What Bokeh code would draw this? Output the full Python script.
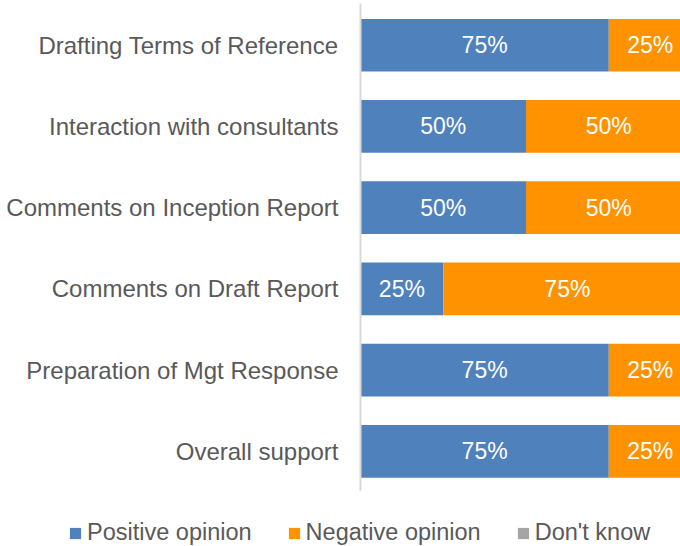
from bokeh.plotting import figure
from bokeh.layouts import column, row
from bokeh.models import ColumnDataSource, FixedTicker, Legend, LegendItem, Range1d
from bokeh.core.properties import value
from bokeh.embed import file_html
from bokeh.resources import INLINE

categories = [
    "Drafting Terms of Reference",
    "Interaction with consultants",
    "Comments on Inception Report",
    "Comments on Draft Report",
    "Preparation of Mgt Response",
    "Overall support",
]
positive = [0.75, 0.50, 0.50, 0.25, 0.75, 0.75]
negative = [0.25, 0.50, 0.50, 0.75, 0.25, 0.25]
dont_know = [0.0, 0.0, 0.0, 0.0, 0.0, 0.0]
series_names = ["Positive opinion", "Negative opinion", "Don't know"]
series_colors = ["#4F81BD", "#FF9200", "#A5A5A5"]

FONT = "Liberation Sans"
n = len(categories)
ys = [n - 1 - i for i in range(n)]

pos_left = [0.0] * n
pos_right = positive
neg_left = positive
neg_right = [a + b for a, b in zip(positive, negative)]
dk_left = neg_right
dk_right = [a + b for a, b in zip(neg_right, dont_know)]

src = ColumnDataSource(dict(
    y=ys, pos_left=pos_left, pos_right=pos_right,
    neg_left=neg_left, neg_right=neg_right,
    dk_left=dk_left, dk_right=dk_right,
))

p = figure(
    width=680, height=500,
    x_range=Range1d(0, 0.9667), y_range=Range1d(-0.483, 5.514),
    output_backend="svg", toolbar_location=None,
    min_border_left=360, min_border_right=0, min_border_top=3, min_border_bottom=10,
)
p.outline_line_color = None
p.xgrid.visible = False
p.ygrid.visible = False
p.xaxis.visible = False

bar_h = 0.649
p.hbar(y="y", left="pos_left", right="pos_right", height=bar_h, source=src,
       fill_color=series_colors[0], line_color=None)
p.hbar(y="y", left="neg_left", right="neg_right", height=bar_h, source=src,
       fill_color=series_colors[1], line_color=None)
p.hbar(y="y", left="dk_left", right="dk_right", height=bar_h, source=src,
       fill_color=series_colors[2], line_color=None)

# data labels
lab_x, lab_y, lab_t = [], [], []
for i in range(n):
    for left, val in ((pos_left[i], positive[i]), (neg_left[i], negative[i])):
        if val > 0:
            lab_x.append(left + val / 2)
            lab_y.append(ys[i])
            lab_t.append(f"{round(val * 100)}%")
p.text(x=lab_x, y=lab_y, text=lab_t, text_align="center", text_baseline="middle",
       text_color="white", text_font=value(FONT), text_font_size="23px")

yax = p.yaxis[0]
yax.ticker = FixedTicker(ticks=ys)
yax.major_label_overrides = {y: c for y, c in zip(ys, categories)}
yax.major_tick_line_color = None
yax.minor_tick_line_color = None
yax.major_tick_out = 0
yax.major_tick_in = 0
yax.major_label_standoff = 22
yax.major_label_text_font = FONT
yax.major_label_text_font_size = "24px"
yax.major_label_text_color = "#595959"
yax.axis_line_color = "#D9D9D9"
yax.axis_line_width = 2

# legend strip below the chart (bars of this strip lie outside its visible range)
lg = figure(
    width=680, height=46, x_range=Range1d(0, 1), y_range=Range1d(100, 101),
    output_backend="svg", toolbar_location=None,
    min_border_left=0, min_border_right=0, min_border_top=0, min_border_bottom=0,
)
lg.outline_line_color = None
lg.xaxis.visible = False
lg.yaxis.visible = False
lg.xgrid.visible = False
lg.ygrid.visible = False
lg_renderers = [
    lg.hbar(y="y", left=l, right=r, height=bar_h, source=src, fill_color=c, line_color=None)
    for l, r, c in (("pos_left", "pos_right", series_colors[0]),
                    ("neg_left", "neg_right", series_colors[1]),
                    ("dk_left", "dk_right", series_colors[2]))
]
legend = Legend(
    items=[LegendItem(label=name, renderers=[r]) for name, r in zip(series_names, lg_renderers)],
    orientation="horizontal",
    location=(68, 0),
    border_line_color=None, background_fill_alpha=0,
    padding=0, margin=0, spacing=35,
    glyph_width=14, glyph_height=14, label_standoff=5,
    label_text_font=FONT, label_text_font_size="23.5px", label_text_color="#595959",
)
lg.add_layout(legend, "center")

layout = column(p, row(lg), spacing=0)
open("out.html", "w").write(file_html(layout, INLINE))
